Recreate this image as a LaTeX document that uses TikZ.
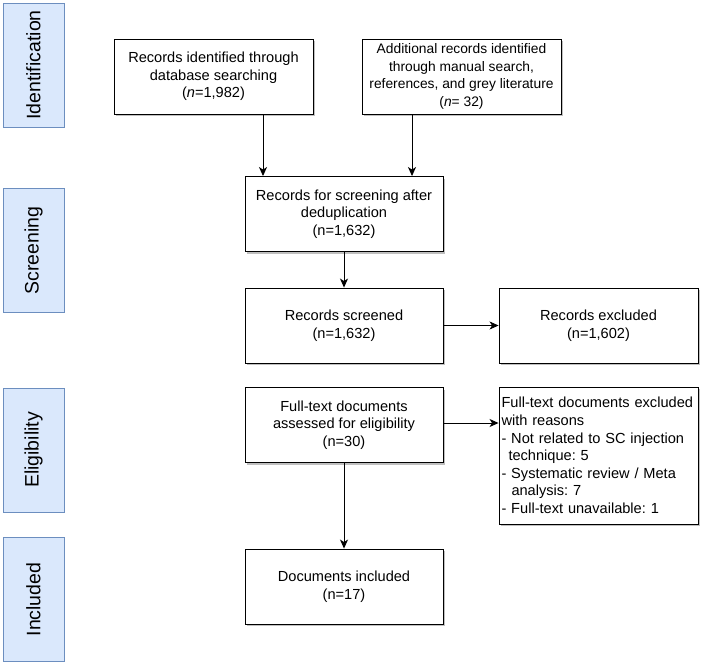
\documentclass[tikz,border=0pt]{standalone}
\usepackage{fontspec}
\setmainfont{Liberation Sans}
\frenchspacing
\usetikzlibrary{arrows.meta,shadows}
\definecolor{sidefill}{HTML}{DAE8FC}
\definecolor{sideline}{HTML}{6C8EBF}
\tikzset{
  box/.style={draw=black, line width=0.9pt, fill=white, rectangle, align=center,
    minimum width=199pt, minimum height=75pt, inner sep=3pt,
    font=\fontsize{14.6}{17.6}\selectfont,
    drop shadow={shadow xshift=2pt, shadow yshift=-2pt, opacity=0.25, fill=black}},
  side/.style={draw=sideline, line width=0.9pt, fill=sidefill, rectangle,
    minimum width=124pt, minimum height=61pt, rotate=90, inner sep=0pt,
    font=\fontsize{19.5}{22}\selectfont},
  arr/.style={draw=black, line width=0.9pt, -{Stealth[length=9pt,width=8pt,inset=2.5pt]}}
}
\begin{document}
\begin{tikzpicture}[x=1pt,y=-1pt]
\useasboundingbox (0,0) rectangle (709,664);
\fill[white] (0,0) rectangle (709,664);
% side labels
\node[side] (sid) at (33.5,65) {Identification};
\node[side] (ssc) at (33.5,250.5) {Screening};
\node[side] (sel) at (33.5,450) {Eligibility};
\node[side] (sin) at (33.5,599.5) {Included};
% boxes
\node[box] (b1) at (213.5,76.5) {Records identified through\\database searching\\(\textit{n}=1,982)};
\node[box, font=\fontsize{13.8}{17.4}\selectfont] (b2) at (461.5,76.5) {Additional records identified\\through manual search,\\references, and grey literature\\(\textit{n}= 32)};
\node[box, minimum width=198pt] (b3) at (344,214) {Records for screening after\\deduplication\\(n=1,632)};
\node[box, minimum width=198pt] (b4) at (344,325.5) {Records screened\\(n=1,632)};
\node[box] (b5) at (598.5,325.5) {Records excluded\\(n=1,602)};
\node[box, minimum width=198pt] (b6) at (344,425) {Full-text documents\\assessed for eligibility\\(n=30)};
\node[box, minimum height=137pt, align=left, text width=194pt, inner xsep=2.5pt] (b7) at (598.5,455.5) {Full-text documents excluded\\with reasons\\- Not related to SC injection\\\hspace*{7pt}technique: 5\\- Systematic review / Meta\\\hspace*{10pt}analysis: 7\\- Full-text unavailable: 1};
\node[box, minimum width=198pt] (b8) at (344,586.5) {Documents included\\(n=17)};
% connectors
\draw[arr] ([xshift=49.5pt]b1.south) -- ([xshift=49.5pt]b1.south |- b3.north);
\draw[arr] ([xshift=-49.5pt]b2.south) -- ([xshift=-49.5pt]b2.south |- b3.north);
\draw[arr] (b3) -- (b4);
\draw[arr] (b4) -- (b5);
\draw[arr] ([yshift=2pt]b6.east) -- ([yshift=2pt]b6.east -| b7.west);
\draw[arr] (b6) -- (b8);
\end{tikzpicture}
\end{document}
